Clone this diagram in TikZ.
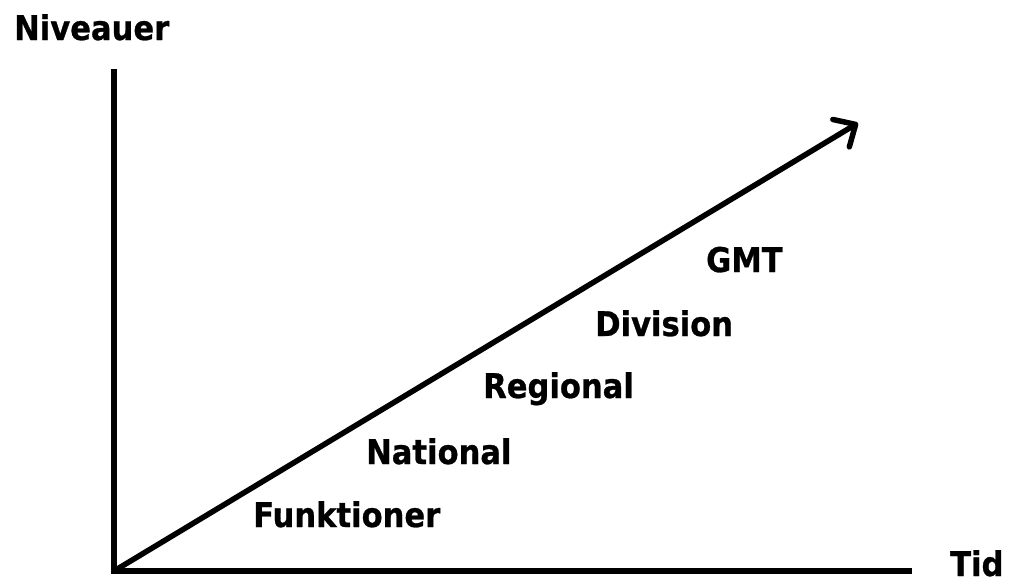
\documentclass[tikz,border=0pt]{standalone}
\usepackage{fontspec}
\setmainfont{DejaVu Sans}[FakeStretch=0.9,BoldFeatures={FakeBold=0.8}]
\usetikzlibrary{arrows.meta}
\begin{document}
\begin{tikzpicture}[x=1pt,y=-1pt,
  lbl/.style={anchor=base west,inner sep=0pt,font=\fontsize{34}{40}\selectfont\bfseries},
  axis/.style={line width=6pt},
  growth/.style={line width=5.5pt,line cap=round,-{Straight Barb[length=17pt,width=32pt,line width=5.5pt,round]}}]
\useasboundingbox (0,0) rectangle (1012,584);
\coordinate (top) at (114,69);
\coordinate (origin) at (114,571);
\coordinate (right) at (912,571);
\coordinate (tip) at (858,123);
\draw[axis] (top) -- (114,574);
\draw[axis] (111,571) -- (right);
\draw[growth] (origin) -- (tip);
\node[lbl] (niv) at (14,40) {Niveauer};
\node[lbl] (tid) at (950,576) {Tid};
\node[lbl] (funk) at (253,527) {Funktioner};
\node[lbl] (nat) at (366,464) {National};
\node[lbl] (reg) at (483,398) {Regional};
\node[lbl] (div) at (595,336) {Division};
\node[lbl] (gmt) at (706,272) {GMT};
\end{tikzpicture}
\end{document}
